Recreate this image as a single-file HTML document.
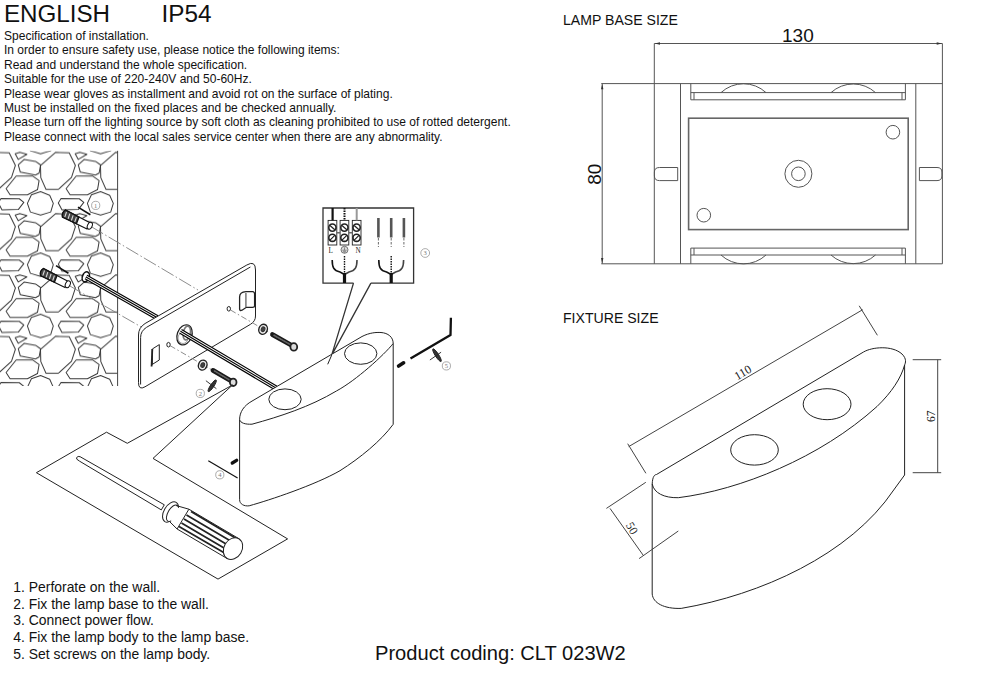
<!DOCTYPE html>
<html><head><meta charset="utf-8"><title>Installation</title>
<style>
html,body{margin:0;padding:0;background:#fff;}
body{width:1000px;height:690px;overflow:hidden;position:relative;font-family:"Liberation Sans",sans-serif;}
svg{position:absolute;left:0;top:0;}
.t{font-family:"Liberation Sans",sans-serif;fill:#111;}
.s{font-family:"Liberation Serif",serif;fill:#222;}
</style></head>
<body>
<svg width="1000" height="690" viewBox="0 0 1000 690">
<defs>
<g id="stones" fill="none" stroke="#383838" stroke-width="1" stroke-linejoin="round">
<polygon points="40.5,59.5 55.5,46.3 69.2,46.8 75.4,59.3 71.5,71.3 58.4,83.3 46,83.3 40.8,71.6"/>
<polygon points="16.2,8.6 32.5,8.6 39.1,13.2 37.5,22.3 27.4,27.4 10.1,27.4 6.1,21.3"/>
<polygon points="31.4,27.4 40.6,24.3 49.7,27.9 53.3,36 50.7,44.6 40.6,47.7 30.4,44.6 27.4,36"/>
<polygon points="-1.7,35.5 1,31.2 19.3,31.4 23.8,35 18.3,42.1 2,42.6"/>
<polygon points="15.2,47.7 19.8,46.2 26.9,48.2 18.3,53.3"/>
<polygon points="18.3,58.8 24.3,53.3 35.5,55.3 40.6,58.8 39.1,67 35.5,69 20.3,66"/>
</g>
<pattern id="wall" patternUnits="userSpaceOnUse" x="0" y="290" width="60" height="61.3">
<use href="#stones" x="0" y="0"/><use href="#stones" x="-60" y="0"/><use href="#stones" x="60" y="0"/>
<use href="#stones" x="0" y="-61.3"/><use href="#stones" x="-60" y="-61.3"/><use href="#stones" x="60" y="-61.3"/>
<use href="#stones" x="0" y="61.3"/><use href="#stones" x="-60" y="61.3"/><use href="#stones" x="60" y="61.3"/>
</pattern>
</defs>

<!-- header text -->
<text class="t" x="3.9" y="22.2" font-size="24.2">ENGLISH</text>
<text class="t" x="161.6" y="22.2" font-size="24.3">IP54</text>
<g class="t" font-size="12.02" fill="#222">
<text x="4.0" y="39.85">Specification of installation.</text>
<text x="4.0" y="54.28">In order to ensure safety use, please notice the following items:</text>
<text x="4.0" y="68.71">Read and understand the whole specification.</text>
<text x="4.0" y="83.14">Suitable for the use of 220-240V and 50-60Hz.</text>
<text x="4.0" y="97.57">Please wear gloves as installment and avoid rot on the surface of plating.</text>
<text x="4.0" y="112.00">Must be installed on the fixed places and be checked annually.</text>
<text x="4.0" y="126.43">Please turn off the lighting source by soft cloth as cleaning prohibited to use of rotted detergent.</text>
<text x="4.0" y="140.86">Please connect with the local sales service center when there are any abnormality.</text>
</g>

<!-- wall -->
<rect x="0" y="150.8" width="117.6" height="235.2" fill="url(#wall)"/>
<line x1="117.6" y1="150.8" x2="117.6" y2="386" stroke="#444" stroke-width="1"/>

<!-- dashed guide lines -->
<g fill="none" stroke="#808080" stroke-width="0.9" stroke-dasharray="14,2.5,1.5,2.5">
<line x1="91" y1="226.5" x2="198" y2="290"/>
<line x1="69" y1="285.5" x2="143" y2="328"/>
</g>
<!-- anchors -->
<g id="anchor2" stroke="#111" fill="#fff" stroke-width="1">
<path d="M43.5,268.5 L67.5,281 L65,287.5 L40.5,275.5 Q39.5,271 43.5,268.5 Z" fill="#fff" stroke-width="1.2"/>
<path d="M43.5,268.5 L57,275.5 L54.5,282 L40.5,275.5 Q39.5,271 43.5,268.5 Z" fill="#444" stroke-width="1.3"/>
<line x1="44.5" y1="270.5" x2="42.8" y2="275.6" stroke="#ddd" stroke-width="1.1"/>
<line x1="47.8" y1="272.2" x2="46.1" y2="277.3" stroke="#ddd" stroke-width="1.1"/>
<line x1="51.1" y1="273.9" x2="49.4" y2="279" stroke="#ddd" stroke-width="1.1"/>
<line x1="54.4" y1="275.6" x2="52.7" y2="280.7" stroke="#ddd" stroke-width="1.1"/>
<ellipse cx="67.8" cy="284.2" rx="2.3" ry="3.6" transform="rotate(25 67.8 284.2)"/>
<line x1="56" y1="265.6" x2="68.4" y2="273.2" stroke-width="1.6"/>
</g>
<use href="#anchor2" x="22" y="-58.5"/>
<ellipse cx="85.8" cy="276.8" rx="3.4" ry="5.2" fill="#fff" stroke="#111" stroke-width="1.6" transform="rotate(20 85.8 276.8)"/>
<!-- cable -->
<g fill="none" stroke-linecap="butt">
<path d="M86,277 L157,317.5" stroke="#000" stroke-width="5.2"/>
<path d="M86,277 L157,317.5" stroke="#fff" stroke-width="3.0"/>
<path d="M86,277 L157,317.5" stroke="#000" stroke-width="1.2"/>
</g>
<!-- plate -->
<g fill="none" stroke="#222" stroke-width="1">
<path d="M138.5,335 L138.5,382.6 Q138.5,390.6 145,386.8 L250.5,324.3 Q255.5,321.3 255.5,316 L255.5,270 Q255.5,260 246.8,265 L145.1,323.5 Q138.5,327.7 138.5,335 Z" fill="#fff"/>
<path d="M140.6,384.5 L140.6,337.5 Q140.6,331 146.6,327.3 L250.4,267"/>
<path d="M152.3,349 L159.3,344.6 L159.3,360 L152.3,364.4 Z"/>
<line x1="152.3" y1="349" x2="151.6" y2="366.5" stroke-width="1.8"/>
<path d="M239.6,309 L239.6,297 Q239.6,292 246,291.6 L253,291.6 Q254.6,292 254.6,294 L254.6,306 Q254.6,307.2 252.5,307.3 L246.4,307.3 L242,310.2 Q239.6,311.2 239.6,309 Z" stroke-width="1.3"/>
<line x1="245.9" y1="293" x2="245.9" y2="307" stroke="#777" stroke-width="1.5"/>
<ellipse cx="168.5" cy="344.7" rx="1.7" ry="2.3"/>
<ellipse cx="228.8" cy="308.8" rx="1.7" ry="2.3"/>
<ellipse cx="184.5" cy="334.9" rx="7.3" ry="10.3" fill="#fff" stroke-width="1.3" transform="rotate(20 184.5 334.9)"/>
<ellipse cx="186.8" cy="333" rx="3.6" ry="7" stroke="#777" stroke-width="1.6" transform="rotate(10 186.8 333)"/>
<ellipse cx="183" cy="338" rx="5" ry="5.5" stroke="#888" stroke-width="0.8"/>
</g>
<g fill="none"><path d="M180.5,331.2 L276,388" stroke="#000" stroke-width="5.2"/>
<path d="M180.5,331.2 L276,388" stroke="#fff" stroke-width="3.0"/>
<path d="M180.5,331.2 L276,388" stroke="#000" stroke-width="1.2"/></g>
<g fill="none" stroke="#808080" stroke-width="0.9" stroke-dasharray="6,2.5,1.5,2.5">
<line x1="230.5" y1="310" x2="272" y2="334.2"/>
<line x1="170" y1="345.6" x2="212" y2="370"/>
</g>
<!-- washers and screws -->
<g stroke="#222" stroke-width="1.1" fill="#fff">
<ellipse cx="263.1" cy="329.3" rx="4.2" ry="5.1" stroke-width="1.4" fill="#eee" transform="rotate(20 263.1 329.3)"/><ellipse cx="263.1" cy="329.3" rx="1.8" ry="2.4" fill="#444" stroke="#333" transform="rotate(20 263.1 329.3)"/>
<ellipse cx="202.7" cy="365.1" rx="4.2" ry="5.1" stroke-width="1.4" fill="#eee" transform="rotate(20 202.7 365.1)"/><ellipse cx="202.7" cy="365.1" rx="1.8" ry="2.4" fill="#444" stroke="#333" transform="rotate(20 202.7 365.1)"/>
</g>
<g stroke-linecap="round">
<line x1="272.5" y1="334.6" x2="291" y2="345" stroke="#1a1a1a" stroke-width="4.8"/>
<line x1="274" y1="335.3" x2="290" y2="344.4" stroke="#666" stroke-width="1.6" stroke-dasharray="1,1.3"/>
<line x1="213" y1="370.4" x2="230.8" y2="380.8" stroke="#1a1a1a" stroke-width="4.8"/>
<line x1="214.5" y1="371" x2="229.8" y2="380.2" stroke="#666" stroke-width="1.6" stroke-dasharray="1,1.3"/>
</g>
<g stroke="#222" stroke-width="1.6" fill="#fff">
<ellipse cx="293.8" cy="346.9" rx="3.4" ry="3.7" stroke-width="1.8" fill="#ddd"/>
<ellipse cx="233.2" cy="382.3" rx="3.3" ry="3.7" stroke-width="1.8" fill="#ddd"/>
</g>
<!-- callout lines to screwdriver panel -->
<g fill="none" stroke="#222" stroke-width="1">
<polyline points="232.5,385 127.3,443.3 106.5,432.2 36.4,472.7 218,579.1 287.6,538.9 153,458.4 232.5,385"/>
</g>
<!-- screwdriver -->
<g stroke="#222" stroke-width="1" fill="#fff">
<path d="M80.1,456.7 L164.3,504.8 L161.3,509.9 L79.6,461.2 Q75.5,459 76.6,457.6 Q78,455.8 80.1,456.7 Z"/>
<ellipse cx="170.5" cy="512" rx="6.5" ry="11.2" transform="rotate(30.6 170.5 512)"/>
<ellipse cx="172.5" cy="513.2" rx="4.5" ry="9.2" transform="rotate(30.6 172.5 513.2)"/>
<path d="M174,506 L186,511 L180,528 L171,521 Z" stroke="none"/>
<path d="M176,505.5 L188.9,509.2 M170,522 L177.1,529"/>
<path d="M188.9,509.2 L238.9,538.7 L227.1,558.5 L177.1,529 Z"/>
<path d="M191,511.5 L238,539.5 M186.5,515 L234,543 M184,519 L232,547.5 M181.5,523 L230,551.5 M179,526.5 L228,555" stroke="#222" stroke-width="1.7"/>
<path d="M189,513.2 L236,541.2 M185,517 L233,545.3 M182.7,521 L231,549.5 M180.2,524.8 L229,553.2" stroke="#fff" stroke-width="0.9"/>
<ellipse cx="233" cy="548.6" rx="9" ry="11.5" transform="rotate(30.6 233 548.6)"/>
</g>
<!-- wiring box -->
<g fill="none" stroke="#333" stroke-width="1.3">
<polyline points="353.5,283.1 323,283.1 323,208 413.6,208 413.6,283.1 370.9,283.1"/>
<polyline points="353.5,283.1 331.7,355.1 370.9,283.1"/>
</g>
<g stroke="#222" fill="#fff" stroke-width="0.9">
<rect x="328.1" y="220.4" width="8.7" height="24.6"/>
<rect x="340.1" y="220.4" width="8.7" height="24.6"/>
<rect x="352.3" y="220.4" width="8.7" height="24.6"/>
<circle cx="332.4" cy="227.6" r="3.6" stroke-width="1.6"/><circle cx="344.4" cy="227.6" r="3.6" stroke-width="1.6"/><circle cx="356.6" cy="227.6" r="3.6" stroke-width="1.6"/>
<circle cx="332.4" cy="237.8" r="3.6" stroke-width="1.6"/><circle cx="344.4" cy="237.8" r="3.6" stroke-width="1.6"/><circle cx="356.6" cy="237.8" r="3.6" stroke-width="1.6"/>
<path d="M330,225.5 L334.8,229.7 M342,225.5 L346.8,229.7 M354.2,225.5 L359,229.7 M330,240.2 L334.8,235.4 M342,240.2 L346.8,235.4 M354.2,240.2 L359,235.4" stroke-width="1.2"/>
<path d="M336.8,232.7 H340.1 M348.8,232.7 H352.3" stroke="#666" stroke-width="1.6"/>
<line x1="332.6" y1="208" x2="332.6" y2="220.4" stroke="#111" stroke-width="2.2"/>
<line x1="344.5" y1="208" x2="344.5" y2="220.4" stroke="#111" stroke-width="2" stroke-dasharray="1.5,1"/>
<line x1="356.7" y1="208" x2="356.7" y2="220.4" stroke="#999" stroke-width="2"/>
<circle cx="344.5" cy="249.8" r="3.5" stroke="#666" fill="#ddd"/><path d="M344.5,247.3 V250.2 M342.3,250.2 H346.7 M343,251.3 H346 M343.8,252.3 H345.2" stroke="#555" stroke-width="0.6"/>
<g stroke="#555" stroke-width="2.6"><line x1="378.4" y1="218" x2="378.4" y2="237.5"/><line x1="391.2" y1="218" x2="391.2" y2="237.5"/><line x1="403.9" y1="218" x2="403.9" y2="237.5"/></g>
<g stroke="#444" stroke-width="0.8" stroke-dasharray="2.5,1.5"><line x1="378.4" y1="238" x2="378.4" y2="247"/><line x1="391.2" y1="238" x2="391.2" y2="247"/><line x1="403.9" y1="238" x2="403.9" y2="247"/></g>
<g fill="none" stroke="#111" stroke-width="1.6">
<path d="M332.2,260 C332.2,267 333.5,270.5 340,272 L344.5,274.5"/>
<path d="M357,260 C357,267 355.5,270.5 349,272 L344.5,274.5" stroke="#444"/>
<path d="M378.8,260 C378.8,267 380.1,270.5 386.6,272 L391.2,274.5"/>
<path d="M403.6,260 C403.6,267 402.1,270.5 395.6,272 L391.2,274.5" stroke="#444"/>
</g>
<line x1="344.5" y1="256" x2="344.5" y2="273" stroke="#111" stroke-width="1.4" stroke-dasharray="1.5,1"/>
<line x1="391.2" y1="256" x2="391.2" y2="273" stroke="#111" stroke-width="1.4" stroke-dasharray="1.5,1"/>
<line x1="344.5" y1="273" x2="344.5" y2="283" stroke="#111" stroke-width="3.2"/>
<line x1="391.2" y1="273" x2="391.2" y2="283" stroke="#111" stroke-width="3.2"/>
</g>
<text class="s" x="328.6" y="252.5" font-size="7.2" fill="#777">L</text>
<text class="s" x="355.4" y="252.5" font-size="7.2" fill="#777">N</text>
<!-- lamp body -->
<g fill="#fff" stroke="#222" stroke-width="1">
<path d="M239.6,419.6 C239.6,412 244,405.5 252,401.1 L362,336.5 C370,332.5 376,332.3 381,332.5 C388,333 393.2,337 393.2,343.5 L393.2,424.3 C381,441 360,458 340,470.7 C315,485 270,500 249.2,505.8 C244,506.5 239.6,504 239.6,499.7 Z"/>
<path d="M239.6,419.6 C240.5,423 245,424.5 252,424.2 C280,416.5 310,406.8 336.4,391 C356,380.5 384,355 393.2,343.5" fill="none"/>
<ellipse cx="285" cy="399.3" rx="16.2" ry="10.4"/>
<ellipse cx="360.7" cy="353.6" rx="16.2" ry="10.7"/>
</g>
<line x1="331.7" y1="355.1" x2="327.7" y2="364.3" stroke="#222" stroke-width="1"/>
<!-- item 4 and 5 parts -->
<line x1="208.3" y1="460.7" x2="237.6" y2="478" stroke="#111" stroke-width="1.2"/>
<line x1="232.3" y1="463" x2="236.6" y2="460.4" stroke="#111" stroke-width="3.4" stroke-linecap="round"/>
<polyline points="410.5,358.6 450.5,335.1 450.9,317.8" fill="none" stroke="#111" stroke-width="2.3" stroke-linejoin="round"/>
<line x1="398.6" y1="366" x2="403.6" y2="362.8" stroke="#111" stroke-width="3.6" stroke-linecap="round"/>
<!-- small tool symbols -->
<g stroke="#222" stroke-width="0.9" fill="#333">
<ellipse cx="437" cy="355.2" rx="1.7" ry="7.5" transform="rotate(-33 437 355.2)"/>
<line x1="429.9" y1="360" x2="441.1" y2="352.2"/>
<ellipse cx="212.2" cy="385.8" rx="1.7" ry="7" transform="rotate(34 212.2 385.8)"/>
<line x1="205.9" y1="380.7" x2="216.4" y2="388.7"/>
</g>
<!-- circled numbers -->
<g fill="none" stroke="#888" stroke-width="0.7">
<circle cx="95.7" cy="205.4" r="4.1"/>
<circle cx="200.3" cy="393.4" r="4.1"/>
<circle cx="425.2" cy="253" r="4.4"/>
<circle cx="219.8" cy="474.8" r="4.1"/>
<circle cx="446.4" cy="365.9" r="4.1"/>
</g>
<g font-family="Liberation Serif,serif" font-size="6.5" fill="#777" text-anchor="middle">
<text x="95.7" y="207.7">1</text><text x="200.3" y="395.7">2</text><text x="425.2" y="255.4">3</text><text x="219.8" y="477.1">4</text><text x="446.4" y="368.2">5</text>
</g>

<!-- bottom list -->
<g class="t" font-size="13.92" fill="#1a1a1a">
<text x="13.3" y="591.85">1. Perforate on the wall.</text>
<text x="13.3" y="608.59">2. Fix the lamp base to the wall.</text>
<text x="13.3" y="625.33">3. Connect power flow.</text>
<text x="13.3" y="642.06">4. Fix the lamp body to the lamp base.</text>
<text x="13.3" y="658.80">5. Set screws on the lamp body.</text>
</g>
<text class="t" x="375" y="659.8" font-size="20.13">Product coding: CLT 023W2</text>

<!-- right titles -->
<text class="t" x="563" y="24.8" font-size="14.1">LAMP BASE SIZE</text>
<text class="t" x="563" y="323" font-size="14.1">FIXTURE SIZE</text>

<!-- LAMP BASE SIZE drawing -->
<g fill="none" stroke="#555" stroke-width="1">
<line x1="654.3" y1="43.5" x2="942.4" y2="43.5"/>
<line x1="654.3" y1="43.5" x2="654.3" y2="263.8"/>
<line x1="942.4" y1="43.5" x2="942.4" y2="263.8"/>
<line x1="601.3" y1="83.6" x2="942.4" y2="83.6"/>
<line x1="601.3" y1="263.8" x2="942.4" y2="263.8"/>
<line x1="602.2" y1="83.6" x2="602.2" y2="263.8"/>
<line x1="680.5" y1="83.6" x2="680.5" y2="263.8"/>
<line x1="915.8" y1="83.6" x2="915.8" y2="263.8"/>
<polyline points="690.8,83.6 690.8,99.8 905.4,99.8 905.4,83.6"/>
<line x1="690.8" y1="92.6" x2="905.4" y2="92.6"/>
<line x1="694" y1="92.6" x2="694" y2="99.8"/><line x1="902" y1="92.6" x2="902" y2="99.8"/>
<polyline points="690.8,263.8 690.8,248.1 905.4,248.1 905.4,263.8"/>
<line x1="690.8" y1="255" x2="905.4" y2="255"/>
<line x1="694" y1="248.1" x2="694" y2="255"/><line x1="902" y1="248.1" x2="902" y2="255"/>
<path d="M721,92.6 A33,33 0 0 1 766,92.6"/>
<path d="M831,92.6 A33,33 0 0 1 875.5,92.6"/>
<path d="M721,255 A33,33 0 0 0 766,255"/>
<path d="M831,255 A33,33 0 0 0 875.5,255"/>
<rect x="688.6" y="118.2" width="219.6" height="111.4" stroke-width="1.6" stroke="#666"/>
<circle cx="892.9" cy="132.2" r="6.8"/>
<circle cx="703.8" cy="215.2" r="6.8"/>
<circle cx="798.4" cy="173.8" r="13.5"/>
<circle cx="798.4" cy="173.8" r="6.8"/>
<path d="M677.7,167.5 H659.5 Q654.4,167.5 654.4,172 V176 Q654.4,180.6 659.5,180.6 H677.7 Z"/>
<path d="M919.4,167.5 H937 Q941.9,167.5 941.9,172 V176 Q941.9,180.6 937,180.6 H919.4 Z"/>
</g>
<g fill="#333" stroke="none">
<path d="M654.8,43.5 L660,42.3 L660,44.7 Z"/><path d="M941.9,43.5 L936.7,42.3 L936.7,44.7 Z"/>
<path d="M602.2,84.1 L601,89.3 L603.4,89.3 Z"/><path d="M602.2,263.3 L601,258.1 L603.4,258.1 Z"/>
</g>
<text class="t" x="782" y="42" font-size="19">130</text>
<text class="t" font-size="19" transform="translate(600.9,184.7) rotate(-90)">80</text>

<!-- FIXTURE drawing -->
<g fill="none" stroke="#222" stroke-width="1">
<path d="M656.5,474.5 L863.5,352 C872,347 892,345 902,354 C907,359 905.5,363 904.6,365"/>
<path d="M652.2,484 C652.5,476 655,474.5 656.5,474.5"/>
<path d="M652.2,484 C654,493 664,498 678.3,497.7 C740,490 820,458 877,406.5 C892,392 901,378 904.6,365"/>
<line x1="652.2" y1="484" x2="652.2" y2="594"/>
<line x1="904.6" y1="365" x2="904.6" y2="475"/>
<path d="M652.2,594 C653,603 664,609 681.2,608.4 C760,595 850,555 893.7,490 L904.6,475"/>
<ellipse cx="754.5" cy="449.9" rx="23.8" ry="15.2"/>
<ellipse cx="827.1" cy="404.2" rx="23.9" ry="15.5"/>
</g>
<g fill="none" stroke="#444" stroke-width="1">
<line x1="628.7" y1="446.6" x2="862.7" y2="309.7"/>
<line x1="627.7" y1="443.7" x2="645.9" y2="473.3"/>
<line x1="859.2" y1="305.8" x2="877.4" y2="335.3"/>
<line x1="912.7" y1="359.7" x2="941.2" y2="359.7"/>
<line x1="912.7" y1="472.7" x2="941.2" y2="472.7"/>
<line x1="937.7" y1="359.7" x2="937.7" y2="472.7"/>
<line x1="606.4" y1="508.4" x2="645.8" y2="482.3"/>
<line x1="639.1" y1="558.6" x2="678.3" y2="531"/>
<line x1="610" y1="508.4" x2="643.5" y2="555.7"/>
</g>
<text class="s" font-size="12" transform="translate(737.2,380.4) rotate(-30)">110</text>
<text class="s" font-size="11.5" transform="translate(934.6,422) rotate(-90)">67</text>
<text class="s" font-size="12" transform="translate(625.5,525) rotate(60)">50</text>

</svg>
</body></html>
